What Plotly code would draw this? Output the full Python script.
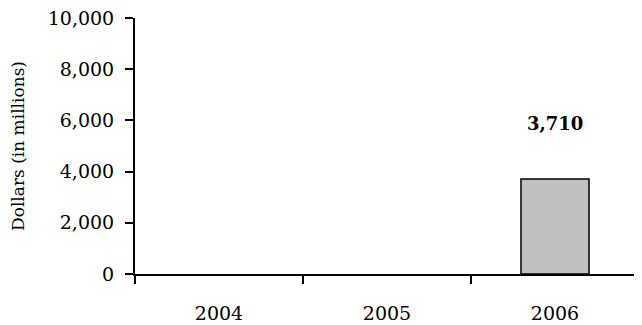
import plotly.graph_objects as go

years = ["2004", "2005", "2006"]
values = [None, None, 3710]
value_labels = ["", "", "3,710"]
y_ticks = [0, 2000, 4000, 6000, 8000, 10000]

FONT = "DejaVu Serif"

fig = go.Figure()
fig.add_trace(go.Bar(
    x=years, y=values, width=0.405,
    marker=dict(color="#C0C0C0", line=dict(color="black", width=1.5)),
    showlegend=False,
))

for i, (v, lab) in enumerate(zip(values, value_labels)):
    if v is not None and lab:
        fig.add_annotation(x=i, y=v, text=f"<b>{lab}</b>", showarrow=False,
                           yanchor="middle", yshift=56,
                           font=dict(family=FONT, size=18, color="black"))

# the page body adds an 8px offset, so the figure is sized to fit inside it
fig.update_layout(
    width=634, height=317,
    margin=dict(l=127, r=3, t=10, b=51, autoexpand=False),
    paper_bgcolor="white", plot_bgcolor="white",
    font=dict(family=FONT, size=18, color="black"),
)
fig.update_xaxes(
    type="category", categoryorder="array", categoryarray=years,
    range=[-0.5, len(years) - 0.5], automargin=False,
    showline=True, linecolor="black", linewidth=2,
    ticks="outside", tickson="boundaries", ticklen=8, tickwidth=2, tickcolor="black",
    tickfont=dict(family=FONT, size=19),
    ticklabelstandoff=21, ticklabeloverflow="allow",
    showgrid=False, zeroline=False,
)
fig.update_yaxes(
    range=[0, 10000], tickvals=y_ticks, tickformat=",d", automargin=False,
    showline=True, linecolor="black", linewidth=2,
    ticks="outside", ticklen=8, tickwidth=2, tickcolor="black",
    tickfont=dict(family=FONT, size=19),
    ticklabelstandoff=7, ticklabeloverflow="allow",
    showgrid=False, zeroline=False,
    title=dict(text="Dollars (in millions)", font=dict(family=FONT, size=17), standoff=33),
)

fig.write_html("out.html")
